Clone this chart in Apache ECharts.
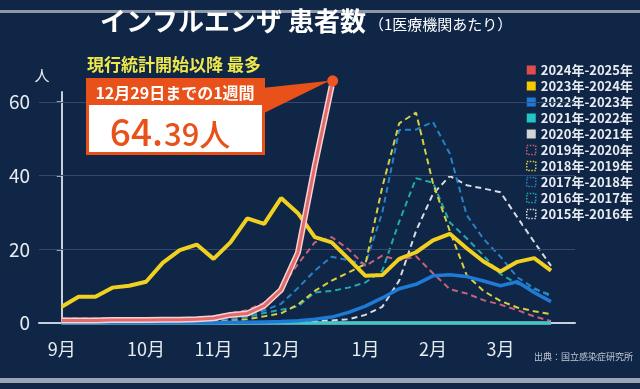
<!DOCTYPE html>
<html><head><meta charset="utf-8">
<script src="https://cdn.jsdelivr.net/npm/echarts@6/dist/echarts.min.js"></script>
<style>html,body{margin:0;padding:0;background:#0f2646;}#c{width:640px;height:389px;}</style>
</head><body><div id="c"></div>
<script>
// week index (0 = week 36 / early September)
const weekIdx = [0,1,2,3,4,5,6,7,8,9,10,11,12,13,14,15,16,17,18,19,20,21,22,23,24,25,26,27,28,29];
const monthTicks = [0,5,9,13,18,22,26];
const monthNames = ['9月','10月','11月','12月','1月','2月','3月'];
const yTicks = [0,20,40,60];

const s2024 = [0.7,0.7,0.7,0.8,0.8,0.8,0.9,0.9,1.0,1.3,2.2,2.6,4.7,9.0,19.1,42.7,64.39];
const s2023 = [4.4,7.1,7.1,9.6,10.1,11.2,16.4,19.8,21.3,17.4,21.9,28.4,26.9,33.9,29.8,23.3,21.9,17.4,12.8,13.0,17.4,19.2,22.4,24.2,20.3,16.7,14.0,16.6,17.6,14.2];
const s2022 = [0.1,0.1,0.1,0.1,0.1,0.1,0.1,0.1,0.1,0.1,0.2,0.2,0.3,0.4,0.6,1.0,1.6,2.9,4.6,6.8,9.3,10.5,12.8,13.1,12.6,11.4,10.1,11.2,8.3,5.8];
const s2021 = [0.0,0.0,0.0,0.0,0.0,0.0,0.0,0.0,0.0,0.0,0.0,0.0,0.0,0.0,0.0,0.0,0.0,0.0,0.0,0.0,0.0,0.0,0.0,0.0,0.0,0.0,0.0,0.0,0.0,0.0];
const s2020 = [0.0,0.0,0.0,0.0,0.0,0.0,0.0,0.0,0.0,0.0,0.0,0.0,0.0,0.0,0.0,0.0,0.0,0.0,0.0,0.0,0.0,0.0,0.0,0.0,0.0,0.0,0.0,0.0,0.0,0.0];
const s2019 = [1.2,1.2,1.2,1.2,1.2,1.2,1.3,1.3,1.4,1.8,2.6,3.5,5.5,9.5,16.0,21.9,23.3,20.0,15.5,18.3,17.0,18.1,13.5,9.2,8.0,6.2,5.0,3.5,1.8,0.5];
const s2018 = [0.1,0.1,0.1,0.1,0.1,0.2,0.2,0.2,0.3,0.4,0.6,1.0,1.8,2.6,5.0,8.7,11.5,13.7,16.0,36.9,54.2,57.1,38.0,25.0,13.0,8.7,6.0,4.2,3.2,2.4];
const s2017 = [0.1,0.1,0.1,0.1,0.2,0.2,0.2,0.3,0.4,0.6,1.0,2.0,3.4,5.2,9.5,14.2,18.0,17.0,16.0,30.0,52.4,52.5,54.6,46.0,29.3,22.8,18.0,12.4,9.5,7.2];
const s2016 = [0.1,0.1,0.1,0.1,0.1,0.2,0.2,0.3,0.4,0.6,1.0,1.6,2.7,3.6,4.5,8.3,8.7,9.6,11.0,14.2,27.5,39.3,38.1,27.3,23.0,18.3,13.3,10.7,9.2,7.6];
const s2015 = [0.1,0.1,0.1,0.1,0.1,0.1,0.1,0.1,0.1,0.1,0.1,0.2,0.2,0.2,0.3,0.5,0.7,1.0,2.2,4.4,11.5,25.0,35.0,39.9,37.4,36.5,35.5,28.7,22.0,15.5];

const F = '"Noto Sans CJK JP","Noto Sans",sans-serif';
const BG = '#0f2646';
const chart = echarts.init(document.getElementById('c'), null, {width:640, height:389});

function pts(arr){ return arr.map((v,i)=>[weekIdx[i], v]); }
function mk(name, arr, color, width, dashed, z){
  return {type:'line', name, data: pts(arr), symbol:'none', clip:false, silent:true, z,
    lineStyle:{color, width, type: dashed ? [6,4] : 'solid'}, itemStyle:{color}};
}

const solid = [
  ['2024年-2025年','#e04c4c'],['2023年-2024年','#f6c800'],['2022年-2023年','#1f7ad6'],
  ['2021年-2022年','#22c4c4'],['2020年-2021年','#d4d4d4']];
const dashed = [
  ['2019年-2020年','#c8607a'],['2018年-2019年','#d8d040'],['2017年-2018年','#2a80c8'],
  ['2016年-2017年','#20a8b0'],['2015年-2016年','#d8dce4']];

const legendData = solid.map(([n,c])=>({name:n, icon:'rect', itemStyle:{color:c, borderWidth:0}}))
  .concat(dashed.map(([n,c])=>({name:n, icon:'rect', itemStyle:{color:'rgba(0,0,0,0)', borderColor:c, borderWidth:1.5, borderType:'dotted'}})));

const s15 = mk('2015年-2016年', s2015, '#d8dce4', 2, true, 2);
s15.markLine = {silent:true, symbol:'none', label:{show:false}, lineStyle:{color:'#34496b', width:1, type:'solid'},
  data: yTicks.filter(v=>v>0).map(v=>({yAxis:v}))};

const redOuter = mk('outline', s2024, '#f6d2d2', 6, false, 20);
const redInner = mk('2024年-2025年', s2024, '#e36a6a', 3, false, 21);

chart.setOption({
  animation:false,
  backgroundColor: BG,
  grid:{left:39, right:65, top:92, bottom:66},
  xAxis:{type:'value', min:-1.345, max:30.42,
    axisLine:{show:true, onZero:false, lineStyle:{color:'#c8d0dc', width:2}},
    axisTick:{show:false}, splitLine:{show:false},
    axisLabel:{customValues: monthTicks, formatter: v => monthNames[monthTicks.indexOf(v)] || '',
      color:'#e8ecf2', fontSize:18, fontFamily:F, margin:17}},
  yAxis:{type:'value', min:0, max:62.7,
    axisLine:{show:true, lineStyle:{color:'#c8d0dc', width:2}},
    axisTick:{show:true, customValues: yTicks, length:5, lineStyle:{color:'#c8d0dc', width:1.5}},
    splitLine:{show:false},
    axisLabel:{customValues: yTicks, color:'#e8ecf2', fontSize:19, fontFamily:F, margin:9}},
  legend:{orient:'vertical', left:523, top:59, padding:[4,6,4,3], backgroundColor:BG,
    itemWidth:9, itemHeight:9, itemGap:2, selectedMode:false, data: legendData,
    textStyle:{color:'#e8ecf2', fontSize:13, fontWeight:'bold', fontFamily:F, lineHeight:14}},
  series:[
    s15,
    mk('2016年-2017年', s2016, '#20a8b0', 2, true, 3),
    mk('2017年-2018年', s2017, '#2a80c8', 2, true, 4),
    mk('2018年-2019年', s2018, '#d8d040', 2, true, 5),
    mk('2019年-2020年', s2019, '#c8607a', 2, true, 6),
    mk('2020年-2021年', s2020, '#d4d4d4', 3, false, 7),
    mk('2021年-2022年', s2021, '#3cc8c8', 3, false, 8),
    mk('2022年-2023年', s2022, '#1f7ad6', 3.5, false, 9),
    mk('2023年-2024年', s2023, '#f0d020', 4, false, 10),
    redOuter, redInner
  ]
});

const tip = chart.convertToPixel({gridIndex:0}, [weekIdx[s2024.length-1], s2024[s2024.length-1]]);
const axisTop = chart.convertToPixel({gridIndex:0}, [-1.345, 62.7]);
chart.setOption({
  graphic:[
    {type:'rect', shape:{x:0, y:10, width:640, height:3}, style:{fill:'#8e98a8'}, z:50},
    {type:'rect', shape:{x:0, y:378, width:640, height:5}, style:{fill:'#9aa4b4'}, z:50},
    {type:'text', x:axisTop[0]+3, y:axisTop[1]-17, z:60, style:{text:'人', fill:'#e8ecf2', font:'15px '+F, align:'center', verticalAlign:'middle'}},
    {type:'text', x:100, y:21, z:60, style:{text:'インフルエンザ 患者数', fill:'#ffffff', font:'bold 26px '+F, align:'left', verticalAlign:'middle'}},
    {type:'text', x:369, y:24, z:60, style:{text:'（1医療機関あたり）', fill:'#ffffff', font:'15px '+F, align:'left', verticalAlign:'middle'}},
    {type:'text', x:633, y:357, z:60, style:{text:'出典：国立感染症研究所', fill:'#c0c8d4', font:'9px '+F, align:'right', verticalAlign:'middle'}},
    {type:'text', x:174, y:64.5, z:60, style:{text:'現行統計開始以降 最多', fill:'#eee84a', font:'bold 17px '+F, align:'center', verticalAlign:'middle'}},
    {type:'polygon', z:55, shape:{points:[[262,88],[tip[0]-2, tip[1]-5],[262,114]]}, style:{fill:'#e8521a'}},
    {type:'rect', z:56, shape:{x:86, y:78, width:179, height:77}, style:{fill:'#e8521a'}},
    {type:'rect', z:57, shape:{x:89, y:105, width:173, height:47}, style:{fill:'#ffffff'}},
    {type:'circle', z:61, shape:{cx:tip[0]+1, cy:tip[1]-5, r:5.5}, style:{fill:'#ee5522'}},
    {type:'text', x:175, y:92.5, z:60, style:{text:'12月29日までの1週間', fill:'#ffffff', font:'bold 16px '+F, align:'center', verticalAlign:'middle'}},
    {type:'text', x:163, y:131.5, z:60, style:{text:'64.', fill:'#e8521a', font:'500 37px '+F, align:'right', verticalAlign:'middle'}},
    {type:'text', x:164, y:134, z:60, style:{text:'39人', fill:'#e8521a', font:'500 31px '+F, align:'left', verticalAlign:'middle'}}
  ]
});
</script></body></html>
